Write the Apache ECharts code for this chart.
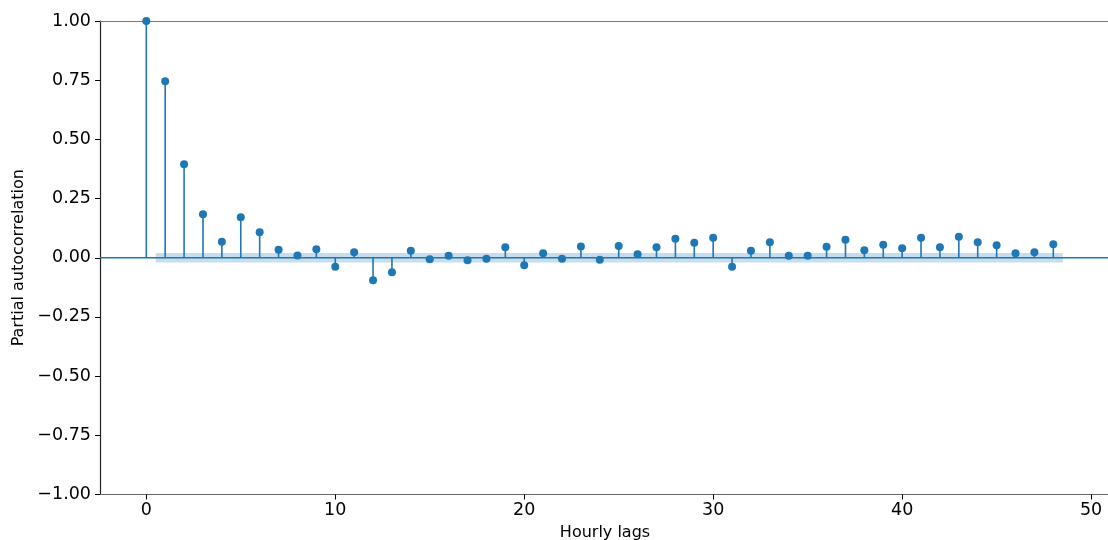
<!DOCTYPE html>
<html lang="en">
<head>
    <meta charset="UTF-8">
    <title>Partial autocorrelation</title>
    <script src="https://cdn.jsdelivr.net/npm/echarts@6/dist/echarts.min.js"></script>
    <style>
        html, body {margin: 0; padding: 0; background: #fff;}
        #chart {width: 1108px; height: 540px;}
    </style>
</head>
<body>
<div id="chart"></div>
<script>
    // lags 0..48
    const lags = [];
    for (let i = 0; i <= 48; i++) lags.push(i);
    // partial autocorrelation
    const pacfValues = [
        1.0, 0.745, 0.395, 0.184, 0.068, 0.171, 0.108, 0.034, 0.010, 0.036,
        -0.038, 0.023, -0.095, -0.061, 0.030, -0.006, 0.008, -0.011, -0.004, 0.044,
        -0.032, 0.019, -0.004, 0.048, -0.008, 0.050, 0.015, 0.044, 0.080, 0.063,
        0.084, -0.038, 0.030, 0.065, 0.008, 0.008, 0.046, 0.076, 0.032, 0.055,
        0.040, 0.084, 0.044, 0.089, 0.065, 0.053, 0.019, 0.023, 0.057
    ];
    // confidence band
    const bandStart = 0.5;
    const bandEnd = 48.5;
    const bandLimit = 0.02;
    const xTicks = [0, 10, 20, 30, 40, 50];

    const blue = '#1f77b4';
    const tickFont = {fontFamily: 'DejaVu Sans', fontSize: 17.5, color: '#000'};
    const nameFont = {fontFamily: 'DejaVu Sans', fontSize: 16, color: '#000'};

    let points = lags.map((l, i) => [l, pacfValues[i]]);

    let myChart = echarts.init(document.getElementById('chart'));
    let option = {
        animation: false,
        grid: {left: 100, right: -2, top: 21, bottom: 45.5, containLabel: false, outerBoundsMode: 'none'},
        xAxis: [
            {
                type: 'value',
                min: -2.45,
                max: 51.0,
                name: 'Hourly lags',
                nameLocation: 'middle',
                nameGap: 27,
                nameTextStyle: nameFont,
                axisLine: {show: true, onZero: false, lineStyle: {color: '#666', width: 1.2}},
                axisTick: {show: true, length: 5, customValues: xTicks, lineStyle: {color: '#000'}},
                axisLabel: {customValues: xTicks, margin: 7, ...tickFont,
                    formatter: v => String(v)},
                splitLine: {show: false}
            },
            {
                // top spine
                type: 'value',
                position: 'top',
                min: -2.45,
                max: 51.0,
                axisLine: {show: true, onZero: false, lineStyle: {color: '#777', width: 1.2}},
                axisTick: {show: false},
                axisLabel: {show: false},
                splitLine: {show: false}
            }
        ],
        yAxis: {
            type: 'value',
            min: -1,
            max: 1,
            interval: 0.25,
            name: 'Partial autocorrelation',
            nameLocation: 'middle',
            nameGap: 72,
            nameTextStyle: nameFont,
            axisLine: {show: true, onZero: false, lineStyle: {color: '#222', width: 1.2}},
            axisTick: {show: true, length: 5, lineStyle: {color: '#000'}},
            axisLabel: {margin: 9, ...tickFont,
                formatter: v => (v < 0 ? '\u2212' : '') + Math.abs(v).toFixed(2)},
            splitLine: {show: false}
        },
        series: [
            {
                // confidence band
                type: 'custom',
                silent: true,
                z: 1,
                data: [[bandStart, bandEnd, bandLimit]],
                renderItem: function (params, api) {
                    let p1 = api.coord([api.value(0), api.value(2)]);
                    let p2 = api.coord([api.value(1), -api.value(2)]);
                    return {
                        type: 'rect',
                        shape: {x: p1[0], y: p1[1], width: p2[0] - p1[0], height: p2[1] - p1[1]},
                        style: {fill: 'rgba(31,119,180,0.25)'}
                    };
                }
            },
            {
                // zero line
                type: 'line',
                silent: true,
                z: 2,
                data: [[-2.45, 0], [51, 0]],
                symbol: 'none',
                lineStyle: {color: blue, width: 1.5}
            },
            {
                // stems
                type: 'custom',
                z: 3,
                data: points,
                clip: true,
                renderItem: function (params, api) {
                    let a = api.coord([api.value(0), 0]);
                    let b = api.coord([api.value(0), api.value(1)]);
                    return {
                        type: 'line',
                        shape: {x1: a[0], y1: a[1], x2: b[0], y2: b[1]},
                        style: {stroke: blue, lineWidth: 1.6}
                    };
                }
            },
            {
                type: 'scatter',
                z: 4,
                data: points,
                clip: true,
                symbol: 'circle',
                symbolSize: 8,
                itemStyle: {color: blue, opacity: 1}
            }
        ]
    };
    myChart.setOption(option);
</script>
</body>
</html>
